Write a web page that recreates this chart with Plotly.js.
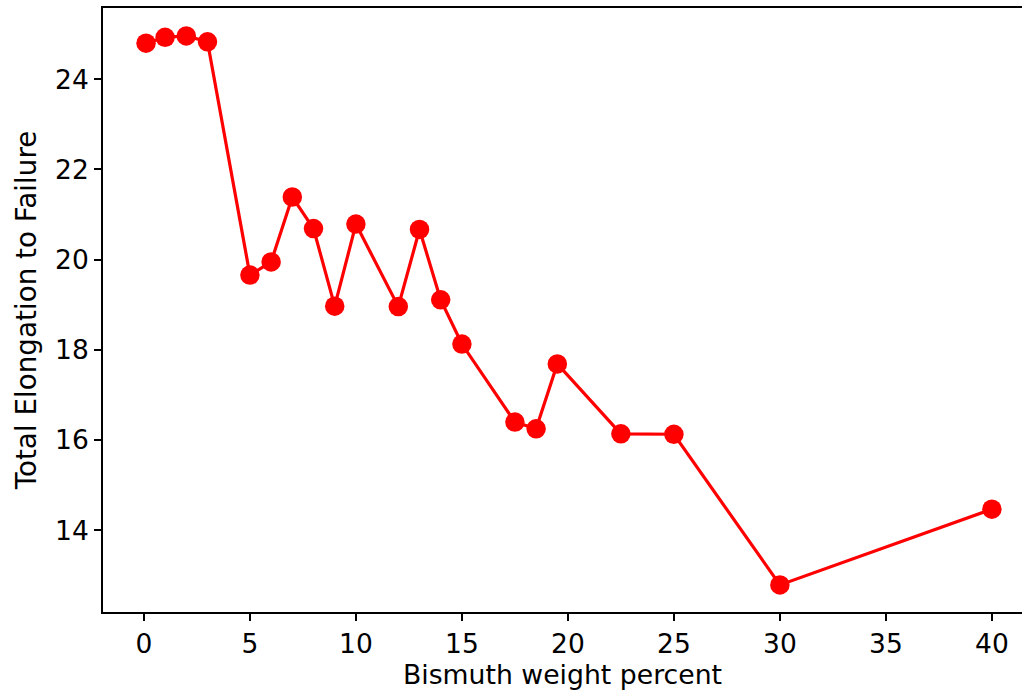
<!DOCTYPE html>
<html>
<head>
<meta charset="utf-8">
<script src="https://cdn.plot.ly/plotly-3.0.1.min.js"></script>
<style>html,body{margin:0;padding:0;background:#fff;overflow:hidden}</style>
</head>
<body>
<div id="chart" style="width:1022px;height:697px"></div>
<script>
const bismuthPercent = [0.1, 1, 2, 3, 5, 6, 7, 8, 9, 10, 12, 13, 14, 15, 17.5, 18.5, 19.5, 22.5, 25, 30, 40];
const elongation = [24.80, 24.93, 24.96, 24.83, 19.66, 19.95, 21.39, 20.69, 18.97, 20.79, 18.96, 20.67, 19.11, 18.13, 16.40, 16.25, 17.69, 16.14, 16.13, 12.79, 14.47];
const xTicks = [0, 5, 10, 15, 20, 25, 30, 35, 40];
const yTicks = [14, 16, 18, 20, 22, 24];

const tickFont = {family: 'DejaVu Sans, sans-serif', size: 26.5, color: '#000'};
const xTitleFont = {family: 'DejaVu Sans, sans-serif', size: 26.7, color: '#000'};
const yTitleFont = {family: 'DejaVu Sans, sans-serif', size: 27.8, color: '#000'};

Plotly.newPlot('chart', [{
  x: bismuthPercent,
  y: elongation,
  type: 'scatter',
  mode: 'lines+markers',
  line: {color: '#ff0000', width: 3.2},
  marker: {color: '#ff0000', size: 19.5},
  hoverinfo: 'x+y'
}], {
  width: 1022,
  height: 697,
  margin: {l: 103, r: 0, t: 8, b: 85},
  paper_bgcolor: '#fff',
  plot_bgcolor: '#fff',
  showlegend: false,
  font: tickFont,
  xaxis: {
    range: [-1.93, 41.42],
    tickvals: xTicks,
    ticktext: xTicks.map(String),
    ticks: 'outside', ticklen: 7, tickwidth: 1.5, tickcolor: '#000',
    showline: true, linecolor: '#000', linewidth: 1.8, mirror: true,
    showgrid: false, zeroline: false,
    tickfont: tickFont,
    title: {text: 'Bismuth weight percent', font: xTitleFont, standoff: 6}
  },
  yaxis: {
    range: [12.19, 25.58],
    tickvals: yTicks,
    ticktext: yTicks.map(String),
    ticks: 'outside', ticklen: 7, tickwidth: 1.5, tickcolor: '#000',
    showline: true, linecolor: '#000', linewidth: 1.8, mirror: false,
    showgrid: false, zeroline: false,
    tickfont: tickFont,
    title: {text: 'Total Elongation to Failure', font: yTitleFont, standoff: 10}
  }
}, {displayModeBar: false, responsive: false});
</script>
</body>
</html>
